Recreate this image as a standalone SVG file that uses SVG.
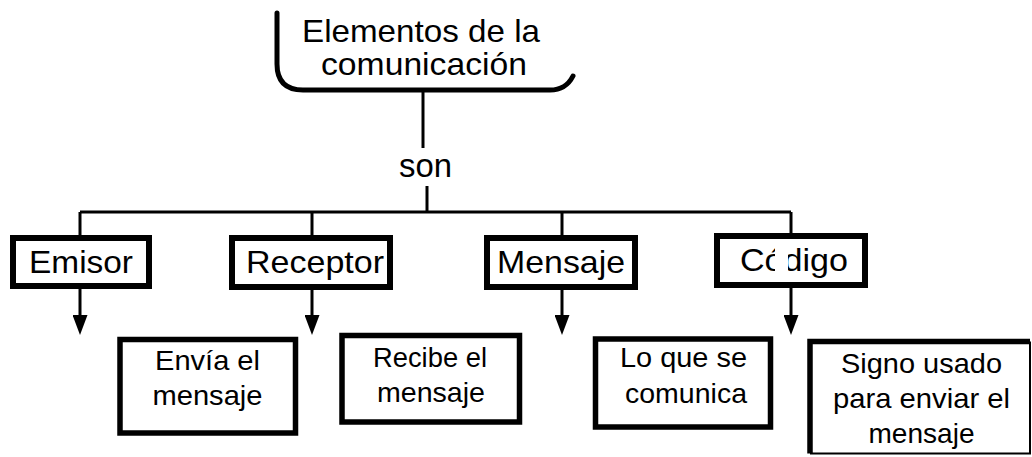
<svg xmlns="http://www.w3.org/2000/svg" width="1032" height="457" viewBox="0 0 1032 457">
<style>
text{font-family:"Liberation Sans",Arial,sans-serif;fill:#000;text-anchor:middle}
.t1{font-size:32px}
.t2{font-size:27.5px}
.box{fill:#fff;stroke:#000;stroke-width:6}
.box2{fill:#fff;stroke:#000;stroke-width:5.5}
.ln{fill:none;stroke:#000;stroke-width:3}
</style>
<defs>
<marker id="ah" viewBox="0 0 20 15" refX="3" refY="7.5" markerWidth="20" markerHeight="15" markerUnits="userSpaceOnUse" orient="auto">
<path d="M0,0 L20,7.5 L0,15 Z" fill="#000"/>
</marker>
</defs>
<rect width="1032" height="457" fill="#fff"/>
<g id="connectors">
<line class="ln" x1="423" y1="90" x2="423" y2="148"/>
<line class="ln" x1="427" y1="186" x2="427" y2="212"/>
<line class="ln" x1="80" y1="212" x2="791" y2="212"/>
<line class="ln" x1="80" y1="212" x2="80" y2="236"/>
<line class="ln" x1="312" y1="212" x2="312" y2="236"/>
<line class="ln" x1="562" y1="212" x2="562" y2="236"/>
<line class="ln" x1="791" y1="212" x2="791" y2="234"/>
<line class="ln" x1="80" y1="289" x2="80" y2="318" marker-end="url(#ah)"/>
<line class="ln" x1="312" y1="290" x2="312" y2="318" marker-end="url(#ah)"/>
<line class="ln" x1="562" y1="290" x2="562" y2="318" marker-end="url(#ah)"/>
<line class="ln" x1="791" y1="288" x2="791" y2="318" marker-end="url(#ah)"/>
</g>
<g id="title">
<path d="M277,13 L277,64 Q277,90 303,90 L550,90 Q566,90 573,76" fill="none" stroke="#000" stroke-width="5" stroke-linecap="round"/>
<text class="t1" x="421" y="42" textLength="238" lengthAdjust="spacingAndGlyphs">Elementos de la</text>
<text class="t1" x="424" y="75" textLength="206" lengthAdjust="spacingAndGlyphs">comunicación</text>
</g>
<g id="son">
<text x="425.5" y="177" style="font-size:33px" textLength="53" lengthAdjust="spacingAndGlyphs">son</text>
</g>
<g id="emisor">
<rect class="box" x="13" y="238" width="136" height="48"/>
<text class="t1" x="81" y="273" textLength="104" lengthAdjust="spacingAndGlyphs">Emisor</text>
</g>
<g id="receptor">
<rect class="box" x="232" y="238" width="158" height="49"/>
<text class="t1" x="315" y="273" textLength="138" lengthAdjust="spacingAndGlyphs">Receptor</text>
</g>
<g id="mensaje">
<rect class="box" x="487" y="238" width="148" height="49"/>
<text class="t1" x="561" y="273" textLength="128" lengthAdjust="spacingAndGlyphs">Mensaje</text>
</g>
<g id="codigo">
<rect class="box" x="717" y="236" width="148" height="49"/>
<text class="t1" x="794" y="271" textLength="108" lengthAdjust="spacingAndGlyphs">Código</text>
<rect x="775" y="246" width="13" height="32" fill="#fff"/>
</g>
<g id="envia">
<rect class="box2" x="120" y="339.5" width="175.5" height="93.5"/>
<text class="t2" x="207.5" y="370" textLength="105" lengthAdjust="spacingAndGlyphs">Envía el</text>
<text class="t2" x="207.5" y="405" textLength="110" lengthAdjust="spacingAndGlyphs">mensaje</text>
</g>
<g id="recibe">
<rect class="box2" x="342" y="335.5" width="177.5" height="86.5"/>
<text class="t2" x="430" y="367" textLength="114" lengthAdjust="spacingAndGlyphs">Recibe el</text>
<text class="t2" x="431" y="402" textLength="108" lengthAdjust="spacingAndGlyphs">mensaje</text>
</g>
<g id="loquese">
<rect class="box2" x="595.5" y="339" width="175" height="88"/>
<text class="t2" x="683.5" y="367" textLength="127" lengthAdjust="spacingAndGlyphs">Lo que se</text>
<text class="t2" x="686" y="403" textLength="122" lengthAdjust="spacingAndGlyphs">comunica</text>
</g>
<g id="signo">
<rect x="810" y="341.5" width="220" height="112" fill="#fff"/>
<path d="M1030,341.5 L1030,453.5 L810,453.5" fill="none" stroke="#000" stroke-width="2"/>
<path d="M810,453.5 L810,341.5 L1030,341.5" fill="none" stroke="#000" stroke-width="5.5"/>
<text class="t2" x="921.5" y="373" textLength="161" lengthAdjust="spacingAndGlyphs">Signo usado</text>
<text class="t2" x="921.5" y="408" textLength="177" lengthAdjust="spacingAndGlyphs">para enviar el</text>
<text class="t2" x="921.5" y="443" textLength="106" lengthAdjust="spacingAndGlyphs">mensaje</text>
</g>
</svg>
